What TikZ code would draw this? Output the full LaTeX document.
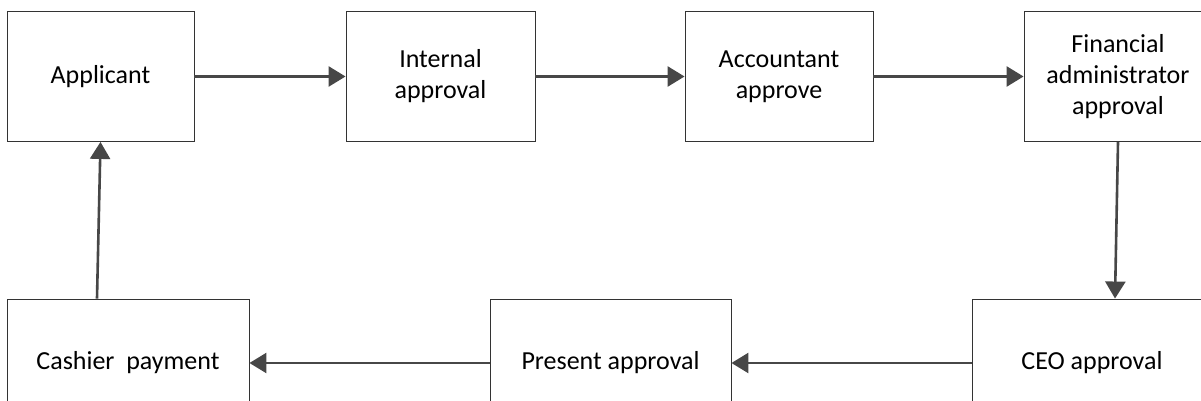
\documentclass[tikz,border=0pt]{standalone}
\usepackage{fontspec}
\setmainfont{Carlito}
\usetikzlibrary{arrows.meta}

\tikzset{
  stepbox/.style={draw=black!80, line width=0.9pt, fill=white, inner sep=0pt,
    align=center, font=\fontsize{26}{31}\selectfont},
  flow/.style={draw=black!72, line width=2.6pt,
    -{Triangle[length=17pt,width=20pt]}}
}

\begin{document}
\begin{tikzpicture}[x=1pt,y=1pt]  % one unit is one pixel of the reference
    \clip (0,0) rectangle (1201,401);  % fixes the page size
    \fill[white] (0,0) rectangle (1201,401);
    % top row
    \node[stepbox, minimum width=187pt, minimum height=130pt] (app) at (100.5,324.5) {Applicant};
    \node[stepbox, minimum width=189pt, minimum height=130pt] (int) at (440.5,324.5) {Internal\\approval};
    \node[stepbox, minimum width=188pt, minimum height=130pt] (acc) at (779,324.5) {Accountant\\approve};
    \node[stepbox, minimum width=188pt, minimum height=130pt] (fin) at (1118,324.5) {Financial\\administrator\\approval};
    % bottom row
    \node[stepbox, minimum width=242pt, minimum height=128pt] (cash) at (128,38) {Cashier~ payment};
    \node[stepbox, minimum width=241pt, minimum height=128pt] (pres) at (610.5,38) {Present approval};
    \node[stepbox, minimum width=240pt, minimum height=128pt] (ceo) at (1092,38) {CEO approval};
    % connectors
    \draw[flow] (app) -- (int);
    \draw[flow] (int) -- (acc);
    \draw[flow] (acc) -- (fin);
    \draw[flow] (fin.south) -- ([xshift=23pt]ceo.north);
    \draw[flow] (ceo) -- (pres);
    \draw[flow] (pres) -- (cash);
    \draw[flow] ([xshift=-31pt]cash.north) -- (app.south);
\end{tikzpicture}
\end{document}
